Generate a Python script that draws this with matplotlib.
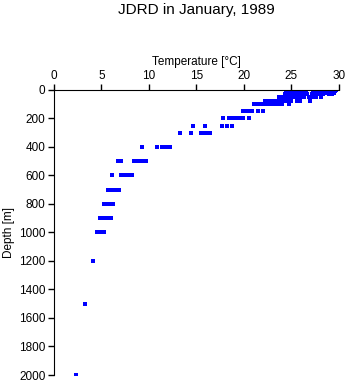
import matplotlib
matplotlib.use('Agg')
import numpy as np
import matplotlib.pyplot as plt

plt.rcParams['font.family'] = ['Liberation Sans', 'DejaVu Sans']

# temperature readings [deg C] at each standard depth level [m]
levels = [0, 10, 20, 30, 50, 75, 100, 150, 200, 250, 300, 400, 500,
          600, 700, 800, 900, 1000, 1200, 1500, 2000]

t_0 = [24.6, 24.9, 25.1, 25.4, 25.7, 26.0, 26.3, 27.4, 27.8, 28.1, 28.5, 28.8, 29.1, 29.4, 29.7]
t_10 = [24.4, 24.8, 25.2, 25.5, 25.9, 26.2, 26.5, 27.3, 27.7, 28.2, 28.6, 29.0, 29.3, 29.6]
t_20 = [24.5, 24.9, 25.3, 25.6, 26.1, 26.4, 27.5, 27.9, 28.4, 28.7, 29.2, 29.5]
t_30 = [24.3, 24.7, 25.0, 25.4, 25.8, 26.2, 26.6, 27.2, 27.6, 28.0, 28.3, 28.9, 29.3]
t_50 = [23.7, 24.0, 24.3, 24.6, 24.9, 25.3, 25.6, 26.0, 26.3, 26.8, 27.3, 27.6, 28.1]
t_75 = [22.2, 22.5, 22.8, 23.1, 23.4, 23.7, 24.0, 24.3, 24.7, 25.0, 25.6, 25.9, 26.9]
t_100 = [21.1, 21.4, 21.7, 22.0, 22.3, 22.6, 22.9, 23.2, 23.6, 24.0, 24.7]
t_150 = [19.9, 20.3, 20.6, 20.9, 21.5, 22.0]
t_200 = [17.8, 18.4, 18.8, 19.1, 19.4, 19.7, 19.9, 20.5]
t_250 = [14.6, 15.9, 17.7, 18.2, 18.7]
t_300 = [13.3, 14.4, 15.5, 15.8, 16.1, 16.4]
t_400 = [9.3, 10.8, 11.4, 11.8, 12.2]
t_500 = [6.7, 7.1, 8.4, 8.7, 9.0, 9.3, 9.7]
t_600 = [6.1, 7.1, 7.4, 7.7, 8.0, 8.2]
t_700 = [5.7, 5.9, 6.2, 6.5, 6.8]
t_800 = [5.3, 5.6, 5.9, 6.2]
t_900 = [4.8, 5.1, 5.4, 5.8, 6.0]
t_1000 = [4.5, 4.8, 5.1, 5.3]
t_1200 = [4.1]
t_1500 = [3.3]
t_2000 = [2.35]

temps = [t_0, t_10, t_20, t_30, t_50, t_75, t_100, t_150, t_200, t_250, t_300,
         t_400, t_500, t_600, t_700, t_800, t_900, t_1000, t_1200, t_1500, t_2000]

depth = []
temp = []
for d, tl in zip(levels, temps):
	depth += [d] * len(tl)
	temp += tl

fig = plt.figure(figsize=(3.48, 3.84), dpi=100)
ax = fig.add_axes([0.155, 0.0234, 0.819, 0.7426])

ax.plot(temp, depth, linestyle='none', marker='s', markersize=2.2,
        color='#0000ff', markeredgewidth=0, antialiased=False)

ax.set_xlim(0, 30)
ax.set_ylim(2000, 0)
ax.set_xticks(np.arange(0, 31, 5))
ax.set_yticks(np.arange(0, 2001, 200))

ax.xaxis.tick_top()
ax.xaxis.set_label_position('top')
ax.spines['right'].set_visible(False)
ax.spines['bottom'].set_visible(False)
ax.tick_params(direction='out', length=4, width=1, labelsize=8.5, pad=2)

ax.set_xlabel('Temperature [°C]', fontsize=8.5, labelpad=3)
ax.set_ylabel('Depth [m]', fontsize=8.5, labelpad=3)

fig.text(0.565, 0.993, 'JDRD in January, 1989', ha='center', va='top', fontsize=11)

plt.savefig('out.png')
